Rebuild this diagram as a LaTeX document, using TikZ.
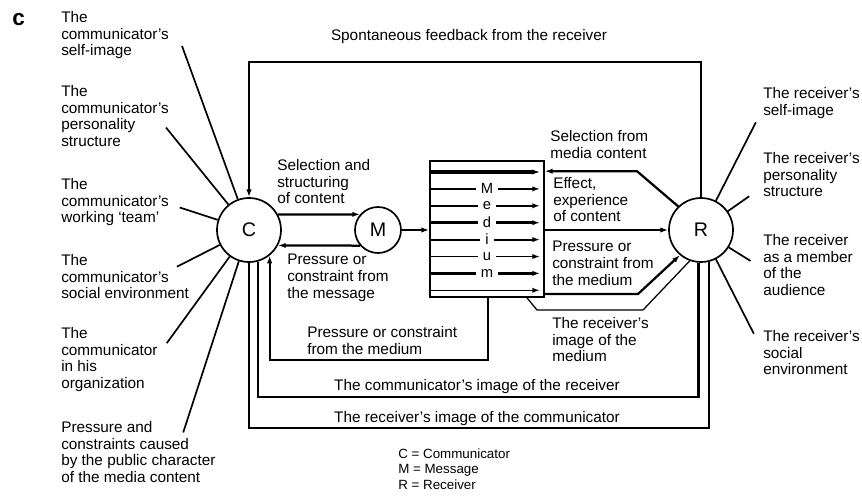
\documentclass[tikz,border=0pt]{standalone}
\usepackage{fontspec}
\setmainfont{Liberation Sans}
\usetikzlibrary{arrows.meta}

\begin{document}
\begin{tikzpicture}[
        party/.style={circle, draw, line width=1.2pt, minimum size=1.6cm, inner sep=0pt, font=\fontsize{14}{14}\selectfont},
        msg/.style={circle, draw, line width=1.2pt, minimum size=1.15cm, inner sep=0pt, font=\fontsize{14}{14}\selectfont},
        medium/.style={rectangle, draw, line width=1.2pt, minimum width=2.85cm, minimum height=3.4cm, inner sep=0pt},
        medletter/.style={fill=white, inner xsep=3.5pt, inner ysep=0pt, font=\fontsize{10.5}{12}\selectfont},
        txt/.style={anchor=north west, align=left, inner sep=0pt, font=\fontsize{10.9}{12}\selectfont},
        ctxt/.style={txt, anchor=base, align=center},
        spoke/.style={draw, line width=1.2pt},
        line/.style={draw, line width=1.6pt, -{Latex[length=5.5pt,width=3.8pt]}},
        heavyline/.style={draw, line width=2pt},
        lightline/.style={draw, line width=0.9pt}
    ]
        \useasboundingbox (0,0) rectangle (21.55,-12.375);

        \node[font=\fontsize{16}{16}\selectfont\bfseries, anchor=base west, inner sep=0pt] (tag) at (0.3,-0.625) {c};

        \node[party] (C) at (6.225,-5.75) {C};
        \node[msg] (M) at (9.45,-5.75) {M};
        \node[party] (R) at (17.525,-5.75) {R};
        \node[medium] (Med) at (12.175,-5.725) {};

        \foreach \i/\w in {0/2.3,1/1.4,2/1.4,3/2.3,4/1.4,5/1.4,6/2.3,7/1.1}
            \draw[line width=\w pt, -{Latex[length=5.5pt,width=3.8pt]}] (Med.west |- 0,-4.3-0.4225*\i) -- (13.5,-4.3-0.4225*\i);
        \foreach \i/\ch in {1/M,2/e,3/d,4/i,5/u,6/m}
            \node[medletter] (let\i) at (12.175,-4.3-0.4225*\i) {\ch};

        \coordinate (fbtop) at (0,-1.55);
        \draw[line] (R.north) -- (R.north |- fbtop) -| (C.north);
        \node[ctxt] (fbtxt) at (11.725,-1.0) {Spontaneous feedback from the receiver};

        \draw[line] (C.28) -- (M.139);
        \draw[line] (M.221) -- (C.-28);
        \draw[line] (M) -- (Med.west |- M);
        \node[txt] (seltxt) at (6.925,-3.97) {Selection and\\structuring\\of content};
        \node[txt] (pmtxt) at (7.175,-6.345) {Pressure or\\constraint from\\the message};

        \coordinate (selbend) at (15.925,-4.28);
        \draw[line] (R.134) -- (selbend) -- (Med.east |- selbend);
        \draw[line] (Med.east |- R) -- (R);
        \coordinate (prbend) at (15.95,-7.35);
        \draw[line] (Med.east |- prbend) -- (prbend) -- (R.230);
        \coordinate (imstart) at (13.175,0);
        \coordinate (imbend1) at (13.425,-7.75);
        \coordinate (imbend2) at (16.075,-7.75);
        \draw[lightline] (Med.south -| imstart) -- (imbend1) -- (imbend2) -- (R.250);
        \node[txt] (rseltxt) at (13.75,-3.245) {Selection from\\media content};
        \node[txt] (efftxt) at (13.825,-4.42) {Effect,\\experience\\of content};
        \node[txt] (rprtxt) at (13.8,-6.02) {Pressure or\\constraint from\\the medium};
        \node[txt] (rimtxt) at (13.8,-7.92) {The receiver's\\image of the\\medium};

        \coordinate (pmbend) at (12.2,-9.0);
        \draw[line] (Med.south -| pmbend) -- (pmbend) -| (C.-51);
        \node[txt] (cprtxt) at (7.675,-8.145) {Pressure or constraint\\from the medium};
        \coordinate (cibot) at (0,-9.925);
        \draw[heavyline] (C.-74) -- (C.-74 |- cibot) -| (R.-94);
        \node[ctxt] (citxt) at (11.925,-9.75) {The communicator's image of the receiver};
        \coordinate (ribot) at (0,-10.7);
        \draw[lightline] (C.south) -- (C.south |- ribot) -| (R.-76);
        \node[ctxt] (ritxt) at (11.925,-10.55) {The receiver's image of the communicator};

        \foreach \a/\len in {110/4.075,129/2.475,162/1.0,207/1.2,234/2.675,252/4.5}
            \draw[spoke] (C.\a) -- ++(\a:\len);
        \foreach \a/\len in {63/2.2,35/0.65,-32/0.64,-63/2.09}
            \draw[spoke] (R.\a) -- ++(\a:\len);

        \node[txt] (cself) at (1.525,-0.27) {The\\communicator's\\self-image};
        \node[txt] (cpers) at (1.525,-2.12) {The\\communicator's\\personality\\structure};
        \node[txt] (cteam) at (1.525,-4.445) {The\\communicator's\\working `team'};
        \node[txt] (csoc) at (1.525,-6.345) {The\\communicator's\\social environment};
        \node[txt] (corg) at (1.525,-8.17) {The\\communicator\\in his\\organization};
        \node[txt] (cpub) at (1.525,-10.52) {Pressure and\\constraints caused\\by the public character\\of the media content};

        \node[txt] (rself) at (19.075,-2.17) {The receiver's\\self-image};
        \node[txt] (rpers) at (19.075,-3.795) {The receiver's\\personality\\structure};
        \node[txt] (raud) at (19.075,-5.845) {The receiver\\as a member\\of the\\audience};
        \node[txt] (rsoc) at (19.075,-8.245) {The receiver's\\social\\environment};

        \node[txt, font=\fontsize{9.5}{11}\selectfont] (legend) at (9.95,-11.205) {C = Communicator\\M = Message\\R = Receiver};
    \end{tikzpicture}
\end{document}
